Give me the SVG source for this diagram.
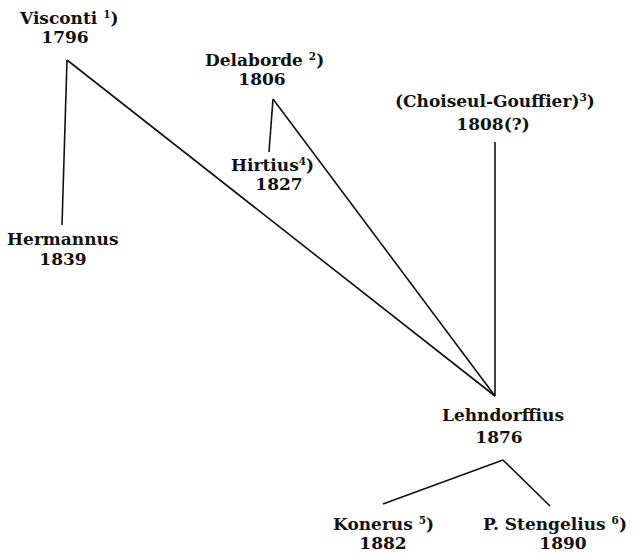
<svg xmlns="http://www.w3.org/2000/svg" width="640" height="554" viewBox="0 0 640 554">
<style>
text{font-family:"DejaVu Serif","Liberation Serif",serif;font-weight:bold;font-size:17px;fill:#111}
.y{text-anchor:middle}
.s{font-size:10.5px}
line{stroke:#111;stroke-width:1.6;fill:none}
</style>
<rect width="640" height="554" fill="#fff"/>
<g id="connectors">
<line x1="67" y1="60" x2="62" y2="225"/>
<line x1="67" y1="60" x2="495" y2="396"/>
<line x1="273" y1="99" x2="269" y2="152"/>
<line x1="273" y1="99" x2="495" y2="396"/>
<line x1="495" y1="142" x2="495" y2="396"/>
<line x1="503" y1="460" x2="383" y2="504"/>
<line x1="503" y1="460" x2="550" y2="506"/>
</g>
<g id="visconti"><text x="20" y="24">Visconti <tspan class="s" dy="-6">1</tspan><tspan dy="6">)</tspan></text><text class="y" x="65" y="43">1796</text></g>
<g id="delaborde"><text x="205" y="66">Delaborde <tspan class="s" dy="-6">2</tspan><tspan dy="6">)</tspan></text><text class="y" x="262" y="85">1806</text></g>
<g id="hirtius"><text x="231" y="171">Hirtius<tspan class="s" dy="-6">4</tspan><tspan dy="6">)</tspan></text><text class="y" x="279" y="190">1827</text></g>
<g id="choiseul"><text x="395" y="107">(Choiseul-Gouffier)<tspan class="s" dy="-6">3</tspan><tspan dy="6">)</tspan></text><text class="y" x="493" y="130">1808(?)</text></g>
<g id="hermannus"><text x="7" y="245">Hermannus</text><text class="y" x="63" y="265">1839</text></g>
<g id="lehndorffius"><text class="y" x="503" y="421">Lehndorffius</text><text class="y" x="499" y="443">1876</text></g>
<g id="konerus"><text x="333" y="530">Konerus <tspan class="s" dy="-6">5</tspan><tspan dy="6">)</tspan></text><text class="y" x="383" y="549">1882</text></g>
<g id="stengelius"><text x="483" y="530">P.  Stengelius <tspan class="s" dy="-6">6</tspan><tspan dy="6">)</tspan></text><text class="y" x="563" y="549">1890</text></g>
</svg>
